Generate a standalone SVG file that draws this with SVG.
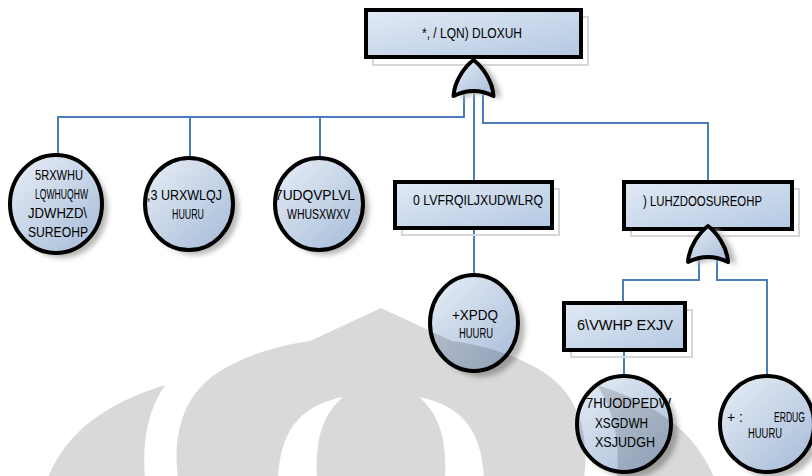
<svg xmlns="http://www.w3.org/2000/svg" width="812" height="476" viewBox="0 0 812 476">
  <defs>
    <linearGradient id="boxFill" x1="0" y1="0" x2="1" y2="1">
      <stop offset="0" stop-color="#e2eaf5"/>
      <stop offset="1" stop-color="#b4c8e2"/>
    </linearGradient>
    <linearGradient id="eventFill" x1="0.15" y1="0.1" x2="0.85" y2="0.9">
      <stop offset="0" stop-color="#e0e8f3"/>
      <stop offset="1" stop-color="#adc1db"/>
    </linearGradient>
    <filter id="soft" x="-30%" y="-30%" width="160%" height="160%">
      <feGaussianBlur stdDeviation="2.5"/>
    </filter>
    <path id="orGate" d="M0,0 C-8,6 -19,20 -20,36 Q0,26 20,36 C19,20 8,6 0,0 Z"/>
  </defs>
  <style>
    .wire{fill:none;stroke:#4a7ebb;stroke-width:2}
    .box{fill:url(#boxFill);stroke:#000;stroke-width:4}
    .boxshade{fill:none;stroke:#d6d6d6;stroke-width:2}
    .event{fill:url(#eventFill);stroke:#000;stroke-width:4}
    .shade{fill:#b8b8b8;filter:url(#soft)}
    .gate{fill:url(#eventFill);stroke:#000;stroke-width:4;stroke-linejoin:round}
    text{font-family:"Liberation Sans",Arial,sans-serif;font-size:14px;fill:#000}
    .wm{fill:#000;fill-opacity:.15}
  </style>

  <!-- connectors -->
  <g id="connectors">
    <path class="wire" d="M464,92 V117 H58 V155"/>
    <path class="wire" d="M190,117 V158"/>
    <path class="wire" d="M320,117 V158"/>
    <path class="wire" d="M474,92 V182"/>
    <path class="wire" d="M474,228 V275"/>
    <path class="wire" d="M483,92 V123 H708 V182"/>
    <path class="wire" d="M699,256 V280 H623 V303"/>
    <path class="wire" d="M717,256 V280 H767 V377"/>
    <path class="wire" d="M624,350 V376"/>
  </g>

  <!-- top event -->
  <g id="top-event">
    <rect class="boxshade" x="373" y="17" width="215" height="48"/>
    <rect class="box" x="366" y="10" width="215" height="47"/>
    <text x="422" y="38" textLength="100" lengthAdjust="spacingAndGlyphs">*, / LQN) DLOXUH</text>
  </g>

  <!-- OR gate under top event -->
  <g id="gate-top">
    <use href="#orGate" class="shade" transform="translate(481,63)"/>
    <use href="#orGate" class="gate" transform="translate(473.5,60)"/>
  </g>

  <!-- basic events, left side -->
  <g id="router-problem">
    <ellipse class="shade" cx="62" cy="209" rx="46" ry="49"/>
    <ellipse class="event" cx="56" cy="204" rx="46" ry="49"/>
    <text x="35" y="180" textLength="48" lengthAdjust="spacingAndGlyphs">5RXWHU</text>
    <text x="35" y="199" textLength="53" lengthAdjust="spacingAndGlyphs">LQWHUQHW</text>
    <text x="28" y="218" textLength="59" lengthAdjust="spacingAndGlyphs">JDWHZD\</text>
    <text x="28" y="237" textLength="60" lengthAdjust="spacingAndGlyphs">SUREOHP</text>
  </g>

  <g id="ip-routing">
    <ellipse class="shade" cx="195" cy="209" rx="44" ry="46"/>
    <ellipse class="event" cx="189" cy="204" rx="44" ry="46"/>
    <text x="147" y="200" textLength="75" lengthAdjust="spacingAndGlyphs">,3 URXWLQJ</text>
    <text x="172" y="219" textLength="32" lengthAdjust="spacingAndGlyphs">HUURU</text>
  </g>

  <g id="transmission">
    <ellipse class="shade" cx="325" cy="209" rx="44" ry="46"/>
    <ellipse class="event" cx="319" cy="204" rx="44" ry="46"/>
    <text x="275" y="200" textLength="80" lengthAdjust="spacingAndGlyphs">7UDQVPLVL</text>
    <text x="287" y="219" textLength="63" lengthAdjust="spacingAndGlyphs">WHUSXWXV</text>
  </g>

  <!-- misconfiguration branch -->
  <g id="misconfiguration">
    <rect class="boxshade" x="402" y="189" width="157" height="46"/>
    <rect class="box" x="395" y="182" width="157" height="46"/>
    <text x="413" y="205" textLength="130" lengthAdjust="spacingAndGlyphs">0 LVFRQILJXUDWLRQ</text>
  </g>

  <g id="human-error">
    <ellipse class="shade" cx="481" cy="329" rx="44" ry="48"/>
    <ellipse class="event" cx="474" cy="323" rx="44" ry="48"/>
    <text x="452" y="320" textLength="46" lengthAdjust="spacingAndGlyphs">+XPDQ</text>
    <text x="459" y="338" textLength="34" lengthAdjust="spacingAndGlyphs">HUURU</text>
  </g>

  <!-- firewall branch -->
  <g id="firewall">
    <rect class="boxshade" x="631" y="189" width="168" height="47"/>
    <rect class="box" x="624" y="182" width="168" height="47"/>
    <text x="643" y="206" textLength="119" lengthAdjust="spacingAndGlyphs">) LUHZDOOSUREOHP</text>
  </g>

  <g id="gate-firewall">
    <use href="#orGate" class="shade" transform="translate(716,229)"/>
    <use href="#orGate" class="gate" transform="translate(708,226)"/>
  </g>

  <g id="system-bugs">
    <rect class="boxshade" x="571" y="310" width="121" height="47"/>
    <rect class="box" x="564" y="303" width="121" height="47"/>
    <text x="577" y="330" textLength="96" lengthAdjust="spacingAndGlyphs">6\VWHP EXJV</text>
  </g>

  <g id="late-update">
    <ellipse class="shade" cx="631" cy="430" rx="47" ry="48"/>
    <ellipse class="event" cx="624" cy="424" rx="47" ry="48"/>
    <text x="586" y="408" textLength="85" lengthAdjust="spacingAndGlyphs">7HUODPEDW</text>
    <text x="595" y="428" textLength="53" lengthAdjust="spacingAndGlyphs">XSGDWH</text>
    <text x="595" y="447" textLength="60" lengthAdjust="spacingAndGlyphs">XSJUDGH</text>
  </g>

  <g id="hw-board">
    <ellipse class="shade" cx="774" cy="430" rx="47" ry="48"/>
    <ellipse class="event" cx="767" cy="424" rx="47" ry="48"/>
    <text y="422"><tspan x="727">+ : </tspan><tspan x="774" textLength="31" lengthAdjust="spacingAndGlyphs">ERDUG</tspan></text>
    <text x="748" y="438" textLength="34" lengthAdjust="spacingAndGlyphs">HUURU</text>
  </g>

  <!-- faint emblem laid over the lower part of the page -->
  <g id="emblem">
    <path class="wm" fill-rule="evenodd" d="M178,480 C172,430 185,395 217,373 C245,355 280,345 310,341 L381,308 L452,341 C482,345 517,355 545,373 C577,395 590,430 584,480 Z
      M343,397 C305,405 280,425 278,480 L317,480 C315,440 322,415 343,397 Z
      M419,397 C457,405 482,425 484,480 L445,480 C447,440 440,415 419,397 Z"/>
    <path class="wm" d="M165,385 C125,398 70,420 47,480 L145,480 C142,440 148,410 165,385 Z"/>
    <path class="wm" d="M597,385 C637,398 692,420 715,480 L617,480 C620,440 614,410 597,385 Z"/>
  </g>
</svg>
